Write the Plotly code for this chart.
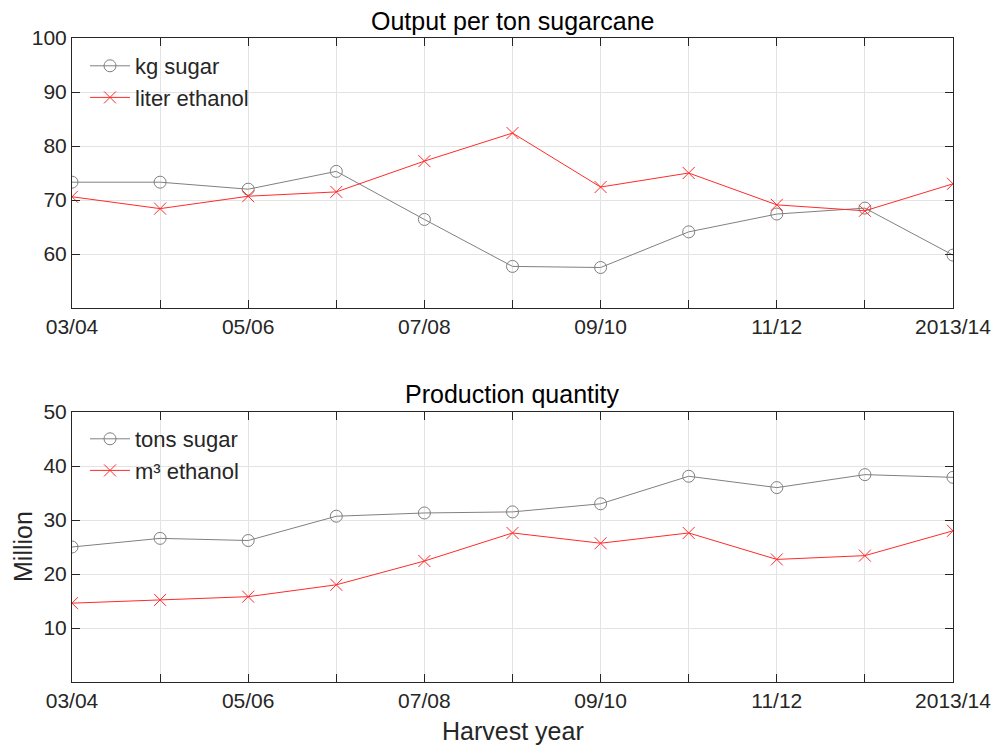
import plotly.graph_objects as go

years = ["03/04", "04/05", "05/06", "06/07", "07/08", "08/09", "09/10", "10/11", "11/12", "12/13", "2013/14"]
tick_labels = ["03/04", "", "05/06", "", "07/08", "", "09/10", "", "11/12", "", "2013/14"]

kg_sugar = [73.3, 73.3, 72.0, 75.3, 66.4, 57.7, 57.5, 64.1, 67.4, 68.5, 59.8]
liter_ethanol = [70.6, 68.4, 70.7, 71.5, 77.2, 82.4, 72.4, 75.0, 69.1, 68.0, 73.0]

tons_sugar = [25.0, 26.6, 26.2, 30.7, 31.3, 31.5, 33.0, 38.1, 36.0, 38.4, 37.9]
m3_ethanol = [14.6, 15.2, 15.8, 18.0, 22.4, 27.6, 25.7, 27.6, 22.7, 23.4, 28.0]

xs = list(range(len(years)))

GRAY = "#808080"
RED = "#ff2a2a"
TXT = "#262626"
FONT = "Liberation Sans, Arial, sans-serif"
TICK_SIZE = 21
LEG_SIZE = 22
TITLE_SIZE = 25

fig = go.Figure()

def add_pair(xa, ya, leg, y1, n1, y2, n2):
    fig.add_trace(go.Scatter(x=xs, y=y1, name=n1, mode="lines+markers", xaxis=xa, yaxis=ya, legend=leg,
                             line=dict(color=GRAY, width=1),
                             marker=dict(symbol="circle-open", size=12, color=GRAY, line=dict(width=1))))
    fig.add_trace(go.Scatter(x=xs, y=y2, name=n2, mode="lines+markers", xaxis=xa, yaxis=ya, legend=leg,
                             line=dict(color=RED, width=1),
                             marker=dict(symbol="x-thin-open", size=12, color=RED, line=dict(width=1, color=RED))))

add_pair("x", "y", "legend", kg_sugar, "kg sugar", liter_ethanol, "liter ethanol")
add_pair("x2", "y2", "legend2", tons_sugar, "tons sugar", m3_ethanol, "m³ ethanol")

# page has an 8px body margin, so figure coords = screen coords - 8
W, H = 1002, 749
OFF = 8
def px(x):
    return (x - OFF) / W
def py(y):
    return 1 - (y - OFF) / H

xd = [px(72), px(953)]
top_dom = [py(308), py(38)]
bot_dom = [py(682), py(412)]
xc = (xd[0] + xd[1]) / 2

xcommon = dict(range=[0, 10], tickvals=xs, ticktext=tick_labels, ticks="inside", ticklen=8,
               tickcolor=TXT, showline=True, linecolor=TXT, linewidth=1, mirror="ticks",
               showgrid=True, gridcolor="#e3e3e3", gridwidth=1, zeroline=False, automargin=False,
               tickfont=dict(size=TICK_SIZE, color=TXT, family=FONT), domain=xd)
ycommon = dict(ticks="inside", ticklen=8, tickcolor=TXT, showline=True, linecolor=TXT, linewidth=1,
               mirror="ticks", showgrid=True, gridcolor="#e3e3e3", gridwidth=1, zeroline=False,
               automargin=False, tickfont=dict(size=TICK_SIZE, color=TXT, family=FONT))

fig.update_layout(
    width=W, height=H, margin=dict(l=0, r=0, t=0, b=0, autoexpand=False),
    paper_bgcolor="white", plot_bgcolor="white",
    font=dict(family=FONT, color=TXT, size=TICK_SIZE),
    xaxis=dict(**xcommon, anchor="y"),
    xaxis2=dict(**xcommon, anchor="y2"),
    yaxis=dict(**ycommon, domain=top_dom, range=[50, 100], anchor="x",
               tickvals=[50, 60, 70, 80, 90, 100], ticktext=["", "60", "70", "80", "90", "100"]),
    yaxis2=dict(**ycommon, domain=bot_dom, range=[0, 50], anchor="x2",
                tickvals=[0, 10, 20, 30, 40, 50], ticktext=["", "10", "20", "30", "40", "50"]),
    legend=dict(x=px(85), y=py(45), xanchor="left", yanchor="top", bgcolor="rgba(0,0,0,0)",
                font=dict(size=LEG_SIZE, color=TXT, family=FONT), tracegroupgap=0, itemwidth=40),
    legend2=dict(x=px(85), y=py(418), xanchor="left", yanchor="top", bgcolor="rgba(0,0,0,0)",
                 font=dict(size=LEG_SIZE, color=TXT, family=FONT), tracegroupgap=0, itemwidth=40),
    annotations=[
        dict(text="Output per ton sugarcane", x=xc, y=py(21), xref="paper", yref="paper",
             xanchor="center", yanchor="middle",
             showarrow=False, font=dict(size=TITLE_SIZE, color="black", family=FONT)),
        dict(text="Production quantity", x=xc, y=py(394), xref="paper", yref="paper",
             xanchor="center", yanchor="middle",
             showarrow=False, font=dict(size=TITLE_SIZE, color="black", family=FONT)),
        dict(text="Harvest year", x=xc, y=py(731), xref="paper", yref="paper",
             xanchor="center", yanchor="middle",
             showarrow=False, font=dict(size=TITLE_SIZE, color=TXT, family=FONT)),
        dict(text="Million", x=px(23), y=py(547), xref="paper", yref="paper", textangle=-90,
             xanchor="center", yanchor="middle",
             showarrow=False, font=dict(size=TITLE_SIZE, color=TXT, family=FONT)),
    ],
)

fig.write_html("out.html")
